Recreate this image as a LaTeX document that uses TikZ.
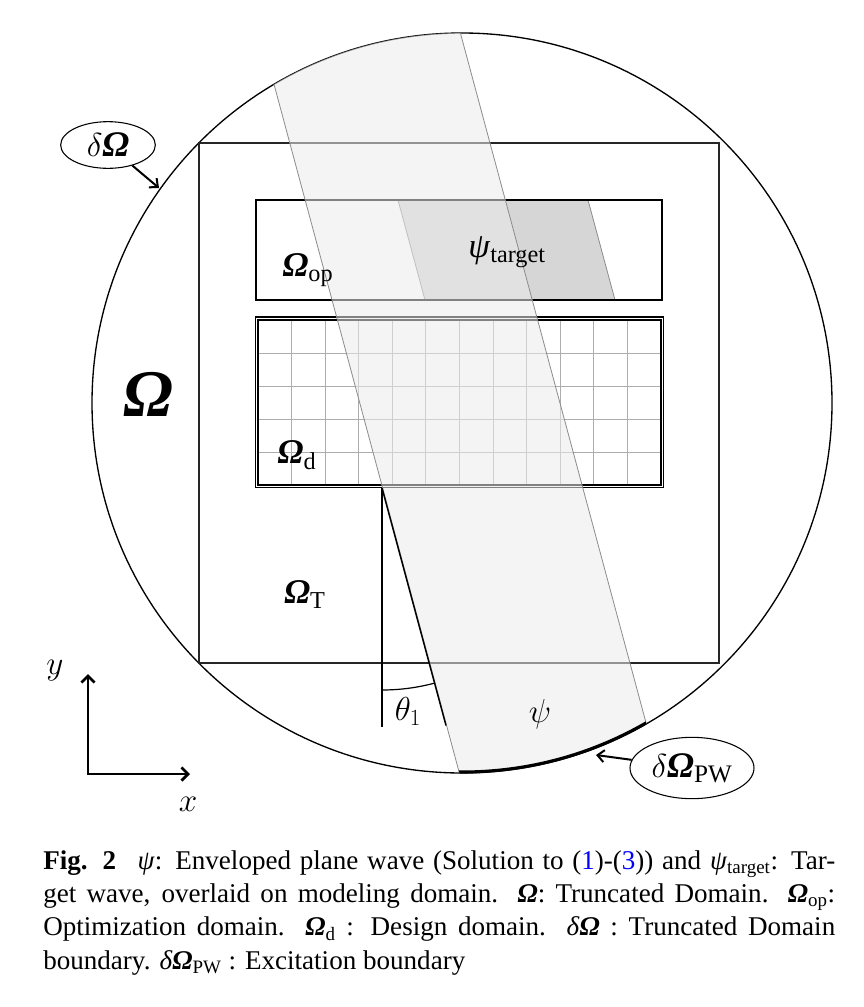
\documentclass[tikz,border=0pt]{standalone}
\usepackage{fontspec}
\setmainfont{Liberation Serif}
\usetikzlibrary{shapes.geometric,arrows.meta}
\definecolor{bandc}{gray}{0.92}
\definecolor{tgtc}{gray}{0.84}
\definecolor{gridc}{gray}{0.68}
\newcommand{\BO}{\textbf{\textit{Ω}}}
\newcommand{\capline}[1]{\hbox to 594pt{\spaceskip=0pt\xspaceskip=0pt #1}}
\begin{document}
\begin{tikzpicture}[x=0.75pt,y=-0.75pt,
  lbl/.style={inner sep=0pt, font=\fontsize{26}{30}\selectfont},
  ell/.style={ellipse, draw, line width=0.8pt, inner sep=0pt, font=\fontsize{27}{31}\selectfont},
  arr/.style={-{Straight Barb[length=5pt,width=9pt]}, line width=1.5pt},
  bandedge/.style={draw=black!45, line width=0.6pt},
  gridline/.style={draw=gridc, line width=0.7pt}]
\useasboundingbox (0,0) rectangle (864,1007);
\fill[white] (0,0) rectangle (864,1007);
\coordinate (C) at (462,403);
% band
\coordinate (bl1) at (247,-16);
\coordinate (bl2) at (507,950);
\coordinate (br1) at (434,-65);
\coordinate (br2) at (694,901);
\coordinate (bl0) at (413,600);
\coordinate (br0) at (613,600);
% circle
\draw[line width=1pt] (C) circle[radius=370];
% outer square
\draw[line width=1.1pt, black!85] (199,143) rectangle (719,663);
% target parallelogram and Omega_op
\fill[tgtc] (398,200) -- (588,200) -- (615,300) -- (425,300) -- cycle;
\draw[line width=0.6pt, black!45] (398,200) -- (425,300) (588,200) -- (615,300);
\draw[line width=2pt] (256,200) rectangle (662,300);
% design grid
\foreach \i in {1,...,11} \draw[gridline] ({258+\i*33.58},320) -- ({258+\i*33.58},486);
\foreach \j in {1,...,4} \draw[gridline] (258,{320+\j*33.2}) -- (661,{320+\j*33.2});
\draw[gridline] (258,320) rectangle (661,486);
\draw[line width=1.2pt, double=white, double distance=0.7pt] (256.8,318.5) rectangle (662.2,486.4);
% angle construction
\coordinate (V) at (382,488);
\coordinate (Vd) at (382,727);
\coordinate (R) at (446,725.5);
\draw[line width=0.9pt] (V) -- (Vd);
% band overlay
\begin{scope}
  \clip (C) circle[radius=370];
  \fill[bandc, fill opacity=0.55] (bl1) -- (bl2) -- (br2) -- (br1) -- cycle;
  \draw[bandedge] (bl1) -- (bl2) (br1) -- (br2);
\end{scope}
\draw[line width=1.1pt] (V) -- (R);
\begin{scope}
  \clip (V) -- (382,900) -- (486,874) -- cycle;
  \draw[line width=0.9pt] (V) circle[radius=202];
\end{scope}
% excitation boundary
\begin{scope}
  \clip (bl0) -- (bl2) -- (br2) -- (br0) -- cycle;
  \draw[line width=2.3pt] (C) circle[radius=369];
\end{scope}
% labels
\node[lbl] (lOm) at (148,394) {\fontsize{50}{56}\selectfont\BO};
\node[lbl] (lOp) at (308,270) {\BO\textsubscript{op}};
\node[lbl] (lOd) at (297,455) {\BO\textsubscript{d}};
\node[lbl] (lOT) at (305,595) {\BO\textsubscript{T}};
\node[lbl] (lTg) at (507,252) {\textit{ψ}\textsubscript{target}};
\node[lbl, font=\fontsize{28}{32}\selectfont] (lPsi) at (540,714) {$\psi$};
\node[lbl, font=\fontsize{24}{28}\selectfont] (lTh) at (408,711) {$\theta_1$};
% boundary callouts
\node[ell, minimum width=71pt, minimum height=35pt] (eO) at (108,145) {$\delta$\BO};
\coordinate (tO) at (159,188);
\draw[arr] (eO) -- (tO);
\node[ell, minimum width=93pt, minimum height=46pt] (ePW) at (692,768) {$\delta$\BO\textsubscript{PW}};
\coordinate (tPW) at (596,755);
\draw[arr] (ePW) -- (tPW);
% axes
\coordinate (O) at (88,774);
\coordinate (Y) at (88,674);
\coordinate (X) at (190,774);
\draw[line width=2pt, {Straight Barb[length=5pt,width=10pt]}-{Straight Barb[length=5pt,width=10pt]}] (Y) -- (O) -- (X);
\node[lbl] (ly) at (55,671) {$y$};
\node[lbl] (lx) at (188,804) {$x$};
% caption
\node[anchor=north west, inner sep=0pt, text width=594pt, font=\fontsize{20.3}{25.1}\selectfont] (cap) at (43,850) {%
\capline{\textbf{Fig. 2}\hspace{0.8em}\textit{ψ}: Enveloped plane wave (Solution to (\textcolor{blue}{1})-(\textcolor{blue}{3})) and \textit{ψ}\textsubscript{target}: Tar-}
\capline{get wave, overlaid on modeling domain. \BO: Truncated Domain. \BO\textsubscript{op}:}
\capline{Optimization domain. \BO\textsubscript{d} : Design domain. \textit{δ}\BO\ : Truncated Domain}
\capline{boundary. \textit{δ}\BO\textsubscript{PW} : Excitation boundary\hfil}};
\end{tikzpicture}
\end{document}
